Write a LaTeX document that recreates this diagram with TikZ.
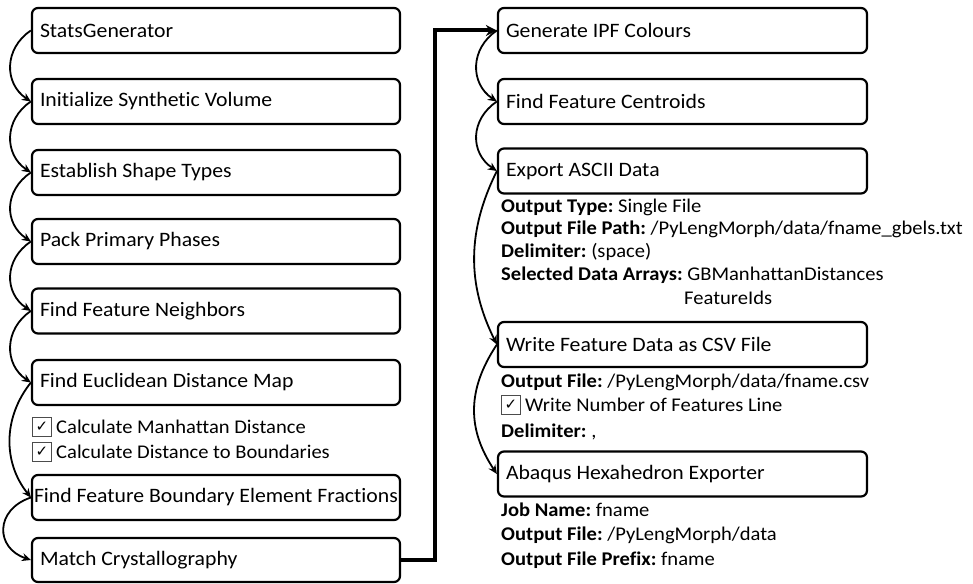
\documentclass[tikz,border=0pt]{standalone}
\usepackage{fontspec}
\setmainfont{Carlito}[FakeStretch=1.06, Ligatures={NoCommon,NoContextual}, Contextuals=NoAlternate]
\newfontfamily\symfont{DejaVu Sans}
\usetikzlibrary{arrows.meta}
\frenchspacing
\begin{document}
\begin{tikzpicture}[x=1pt,y=-1pt,
  box/.style={draw, line width=2.2pt, rounded corners=6pt, minimum width=368pt, minimum height=45pt, inner xsep=8pt, inner ysep=0pt, font=\fontsize{20.5}{24}\selectfont},
  info/.style={anchor=west, inner sep=0pt, font=\fontsize{19.4}{22}\selectfont},
  flow/.style={-{Stealth[length=9pt,width=8pt]}, line width=1.8pt},
  chk/.style={draw=black!70, line width=1pt, minimum size=19pt, inner sep=0pt, font=\symfont\fontsize{15}{15}\selectfont}
]
\newcommand{\lbox}[1]{\makebox[352pt][l]{#1}}
\newcommand{\rbox}[1]{\makebox[353pt][l]{#1}}
\useasboundingbox (0,0) rectangle (973,583);
% left column
\node[box] (b1) at (216,30.5) {\lbox{StatsGenerator}};
\node[box] (b2) at (216,101.5) {\lbox{Initialize Synthetic Volume}};
\node[box] (b3) at (216,172.5) {\lbox{Establish Shape Types}};
\node[box] (b4) at (216,241.5) {\lbox{Pack Primary Phases}};
\node[box] (b5) at (216,311) {\lbox{Find Feature Neighbors}};
\node[box] (b6) at (216,382.5) {\lbox{Find Euclidean Distance Map}};
\node[box, inner xsep=2pt] (b7) at (216,497.5) {\makebox[364pt][l]{Find Feature Boundary Element Fractions}};
\node[box, minimum height=44pt] (b8) at (216,560) {\lbox{Match Crystallography}};
\node[chk] (c1) at (42,427) {✓};
\node[info] (t1) at (56,427) {Calculate Manhattan Distance};
\node[chk] (c2) at (42,452) {✓};
\node[info] (t2) at (56,452) {Calculate Distance to Boundaries};
% right column
\node[box] (r1) at (682.5,30.5) {\rbox{Generate IPF Colours}};
\node[box] (r2) at (682.5,101.5) {\rbox{Find Feature Centroids}};
\node[box] (r3) at (682.5,171) {\rbox{Export ASCII Data}};
\node[box] (r4) at (682.5,344.5) {\rbox{Write Feature Data as CSV File}};
\node[box] (r5) at (682.5,474) {\rbox{Abaqus Hexahedron Exporter}};
% details export
\node[info] (e1) at (501,207) {\textbf{Output Type:} Single File};
\node[info] (e2) at (501,229) {\textbf{Output File Path:} /PyLengMorph/data/fname\_gbels.txt};
\node[info] (e3) at (501,252) {\textbf{Delimiter:} (space)};
\node[info] (e4) at (501,275) {\textbf{Selected Data Arrays:} GBManhattanDistances};
\node[info] (e5) at (684,298) {FeatureIds};
% details csv
\node[info] (w1) at (501,382) {\textbf{Output File:} /PyLengMorph/data/fname.csv};
\node[chk] (c3) at (511,405) {✓};
\node[info] (w2) at (525,405) {Write Number of Features Line};
\node[info] (w3) at (501,432) {\textbf{Delimiter:} ,};
% details abaqus
\node[info] (a1) at (501,510) {\textbf{Job Name:} fname};
\node[info] (a2) at (501,535) {\textbf{Output File:} /PyLengMorph/data};
\node[info] (a3) at (501,560) {\textbf{Output File Prefix:} fname};
% connectors left
\draw[flow] (b1.west) .. controls +(-27,18) and +(-27,-18) .. (b2.west);
\draw[flow] (b2.west) .. controls +(-27,18) and +(-27,-18) .. (b3.west);
\draw[flow] (b3.west) .. controls +(-27,18) and +(-27,-18) .. (b4.west);
\draw[flow] (b4.west) .. controls +(-27,18) and +(-27,-18) .. (b5.west);
\draw[flow] (b5.west) .. controls +(-27,18) and +(-27,-18) .. (b6.west);
\draw[flow] (b6.west) .. controls +(-28,35) and +(-28,-35) .. (b7.west);
\draw[flow] (b7.west) .. controls +(-36,12) and +(-36,-12) .. (b8.west);
% connectors right
\draw[flow] (r1.west) .. controls +(-27,18) and +(-27,-18) .. (r2.west);
\draw[flow] (r2.west) .. controls +(-27,18) and +(-27,-18) .. (r3.west);
\draw[flow] (r3.west) .. controls +(-30,60) and +(-30,-60) .. (r4.west);
\draw[flow] (r4.west) .. controls +(-30,45) and +(-30,-45) .. (r5.west);
% thick link
\coordinate (k1) at (435,560);
\draw[line width=4pt, -{Stealth[length=11pt,width=11pt]}] (b8.east) -- (k1) |- (r1.west);
\end{tikzpicture}
\end{document}
